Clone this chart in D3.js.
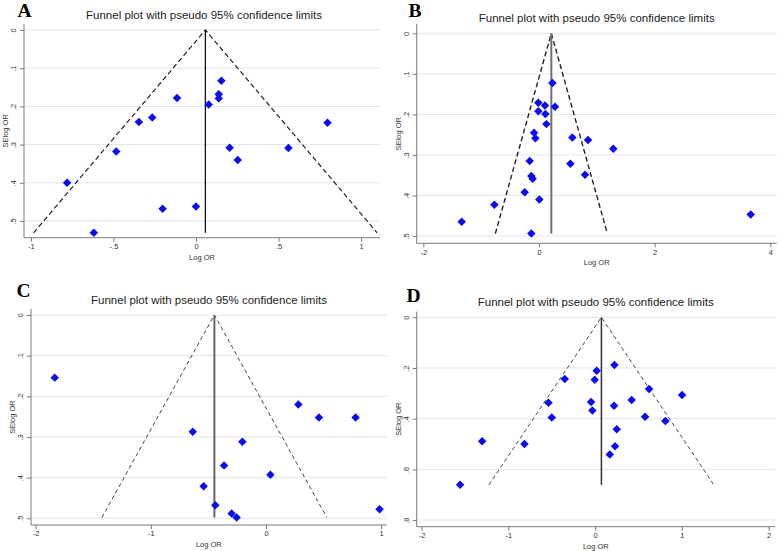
<!DOCTYPE html>
<html><head><meta charset="utf-8">
<script src="https://cdn.jsdelivr.net/npm/d3@7"></script>
<style>
html,body{margin:0;padding:0;background:#fff;}
svg{display:block;font-family:"Liberation Sans",Arial,sans-serif;}
</style></head>
<body><svg id="chart" width="778" height="551"></svg>
<script>
// ---- Data ----
const panelLetters = ["A", "B", "C", "D"];
const chartTitle = "Funnel plot with pseudo 95% confidence limits";
const xAxisTitle = "Log OR";
const yAxisTitle = "SElog OR";

const aLogOR = [0.154, 0.138, 0.138, 0.077, -0.115, -0.265, -0.346, -0.483, -0.781, -0.619, -0.202, 0.0, 0.204, 0.253, 0.560, 0.797];
const aSE    = [0.133, 0.168, 0.179, 0.195, 0.178, 0.229, 0.241, 0.318, 0.400, 0.531, 0.468, 0.462, 0.308, 0.340, 0.309, 0.243];
const aTheta = 0.057;

const bLogOR = [0.231, -0.012, 0.104, 0.277, -0.012, 0.110, 0.127, -0.086, -0.063, 0.576, 0.847, 1.285, -0.161, 0.542, -0.133, -0.110, 0.795, -0.248, 0.006, -0.772, -1.337, -0.133, 3.66];
const bSE    = [0.1225, 0.171, 0.178, 0.181, 0.192, 0.199, 0.224, 0.245, 0.259, 0.257, 0.263, 0.285, 0.315, 0.322, 0.352, 0.359, 0.349, 0.392, 0.410, 0.423, 0.465, 0.494, 0.447];
const bTheta = 0.213;

const cLogOR = [-1.834, -0.636, -0.205, -0.364, -0.541, -0.440, -0.298, -0.255, 0.038, 0.281, 0.460, 0.778, 0.986];
const cSE    = [0.154, 0.287, 0.312, 0.370, 0.421, 0.468, 0.488, 0.498, 0.393, 0.220, 0.252, 0.252, 0.478];
const cTheta = -0.448;

const dLogOR = [0.223, 0.019, -0.004, -0.349, 0.622, 1.002, 0.422, -0.046, -0.537, 0.219, -0.031, -0.499, 0.576, 0.810, 0.250, -1.301, -0.814, 0.230, 0.169, -1.555];
const dSE    = [0.188, 0.211, 0.246, 0.243, 0.283, 0.307, 0.326, 0.334, 0.337, 0.349, 0.368, 0.395, 0.392, 0.409, 0.442, 0.489, 0.500, 0.509, 0.541, 0.661];
const dTheta = 0.073;

const aXTicks = [-1, -0.5, 0, 0.5, 1];     const aXTickLabels = ["-1", "-.5", "0", ".5", "1"];
const bXTicks = [-2, 0, 2, 4];             const bXTickLabels = ["-2", "0", "2", "4"];
const cXTicks = [-2, -1, 0, 1];            const cXTickLabels = ["-2", "-1", "0", "1"];
const dXTicks = [-2, -1, 0, 1, 2];         const dXTickLabels = ["-2", "-1", "0", "1", "2"];
const abcYTicks = [0, 0.1, 0.2, 0.3, 0.4, 0.5]; const abcYTickLabels = ["0", ".1", ".2", ".3", ".4", ".5"];
const dYTicks = [0, 0.2, 0.4, 0.6, 0.8];   const dYTickLabels = ["0", ".2", ".4", ".6", ".8"];

// ---- Layout ----
const panels = [
  {letter: panelLetters[0], x: aLogOR, y: aSE, theta: aTheta, xt: aXTicks, xl: aXTickLabels, yt: abcYTicks, yl: abcYTickLabels,
   xDom: [-1.042, 1.115], xRng: [24, 380], yDom: [-0.0157, 0.5437], yRng: [24, 237.7],
   letterPos: [17.5, 16.5], titleX: 204, titleY: 18.7, vColor: "#111", vWidth: 1.3, dColor: "#222", dWidth: 1.2, dash: "5,3"},
  {letter: panelLetters[1], x: bLogOR, y: bSE, theta: bTheta, xt: bXTicks, xl: bXTickLabels, yt: abcYTicks, yl: abcYTickLabels,
   xDom: [-2.115, 4.11], xRng: [416.7, 776.7], yDom: [-0.023, 0.518], yRng: [24, 243.3],
   letterPos: [408.5, 17], titleX: 596.7, titleY: 22, vColor: "#707070", vWidth: 2, dColor: "#222", dWidth: 1.4, dash: "5,3"},
  {letter: panelLetters[2], x: cLogOR, y: cSE, theta: cTheta, xt: cXTicks, xl: cXTickLabels, yt: abcYTicks, yl: abcYTickLabels,
   xDom: [-2.04, 1.048], xRng: [31, 386.7], yDom: [-0.0148, 0.5165], yRng: [309, 525],
   letterPos: [16.5, 297], titleX: 209, titleY: 304, vColor: "#666", vWidth: 2, dColor: "#444", dWidth: 1, dash: "4,3"},
  {letter: panelLetters[3], x: dLogOR, y: dSE, theta: dTheta, xt: dXTicks, xl: dXTickLabels, yt: dYTicks, yl: dYTickLabels,
   xDom: [-2.055, 2.073], xRng: [416.7, 775], yDom: [-0.022, 0.826], yRng: [311.7, 526.7],
   letterPos: [406.5, 302], titleX: 595.7, titleY: 306, vColor: "#333", vWidth: 1.5, dColor: "#444", dWidth: 1, dash: "4,3"}
];

const svg = d3.select("#chart");
const axisColor = "#7a7a7a";
const gridColor = "#dde8ec";
const labelColor = "#333";

panels.forEach(p => {
  const g = svg.append("g");
  const x = d3.scaleLinear().domain(p.xDom).range(p.xRng);
  const y = d3.scaleLinear().domain(p.yDom).range(p.yRng);
  const [l, r] = p.xRng, [t, b] = p.yRng;

  // grid
  g.append("g").selectAll("line").data(p.yt).join("line")
    .attr("x1", l).attr("x2", r).attr("y1", d => y(d)).attr("y2", d => y(d))
    .attr("stroke", gridColor).attr("stroke-width", 1);

  // y axis
  const ya = g.append("g").attr("transform", `translate(${l},0)`)
    .call(d3.axisLeft(y).tickValues(p.yt).tickFormat((d, i) => p.yl[i]).tickSize(4).tickSizeOuter(0));
  ya.select(".domain").remove();
  ya.append("line").attr("x1", 0).attr("x2", 0).attr("y1", t).attr("y2", b).attr("stroke", axisColor);
  ya.selectAll(".tick line").attr("stroke", axisColor);
  ya.selectAll(".tick text")
    .attr("fill", labelColor).attr("font-size", 7.5).attr("font-family", "Liberation Sans, Arial, sans-serif")
    .attr("x", null).attr("dy", null)
    .attr("text-anchor", "middle")
    .attr("transform", "translate(-10.5,0) rotate(-90)")
    .attr("y", 0).attr("dy", "0.32em");

  // x axis
  const xa = g.append("g").attr("transform", `translate(0,${b})`)
    .call(d3.axisBottom(x).tickValues(p.xt).tickFormat((d, i) => p.xl[i]).tickSize(4).tickSizeOuter(0));
  xa.select(".domain").remove();
  xa.append("line").attr("x1", l).attr("x2", r).attr("y1", 0).attr("y2", 0).attr("stroke", axisColor);
  xa.selectAll(".tick line").attr("stroke", axisColor);
  xa.selectAll(".tick text").attr("fill", labelColor).attr("font-size", 7.5)
    .attr("font-family", "Liberation Sans, Arial, sans-serif").attr("y", 6);

  // axis titles
  g.append("text").attr("x", (l + r) / 2).attr("y", b + 22).attr("text-anchor", "middle")
    .attr("font-size", 7.5).attr("fill", labelColor).text(xAxisTitle);
  g.append("text").attr("transform", `translate(${l - 18.5},${(t + b) / 2}) rotate(-90)`)
    .attr("text-anchor", "middle").attr("dy", "0.32em")
    .attr("font-size", 7.5).attr("fill", labelColor).text(yAxisTitle);

  // funnel: pseudo 95% CI lines and vertical line at pooled estimate
  const seMax = d3.max(p.y);
  g.append("path")
    .attr("d", d3.line()([[x(p.theta - 1.96 * seMax), y(seMax)], [x(p.theta), y(0)], [x(p.theta + 1.96 * seMax), y(seMax)]]))
    .attr("fill", "none").attr("stroke", p.dColor).attr("stroke-width", p.dWidth).attr("stroke-dasharray", p.dash);
  g.append("line").attr("x1", x(p.theta)).attr("x2", x(p.theta)).attr("y1", y(0)).attr("y2", y(seMax))
    .attr("stroke", p.vColor).attr("stroke-width", p.vWidth);

  // points
  const sym = d3.symbol().type(d3.symbolSquare).size(36);
  g.append("g").selectAll("path").data(p.x.map((v, i) => [v, p.y[i]])).join("path")
    .attr("d", sym)
    .attr("transform", d => `translate(${x(d[0])},${y(d[1])}) rotate(45)`)
    .attr("fill", "#0a0af5");

  // title
  g.append("text").attr("x", p.titleX).attr("y", p.titleY).attr("text-anchor", "middle")
    .attr("font-size", 11.5).attr("fill", "#222").text(chartTitle);

  // panel letter
  g.append("text").attr("x", p.letterPos[0]).attr("y", p.letterPos[1])
    .attr("font-family", "Liberation Serif, Times New Roman, serif").attr("font-weight", "bold")
    .attr("font-size", 19.5).attr("fill", "#000").text(p.letter);
});
</script>
</body></html>
